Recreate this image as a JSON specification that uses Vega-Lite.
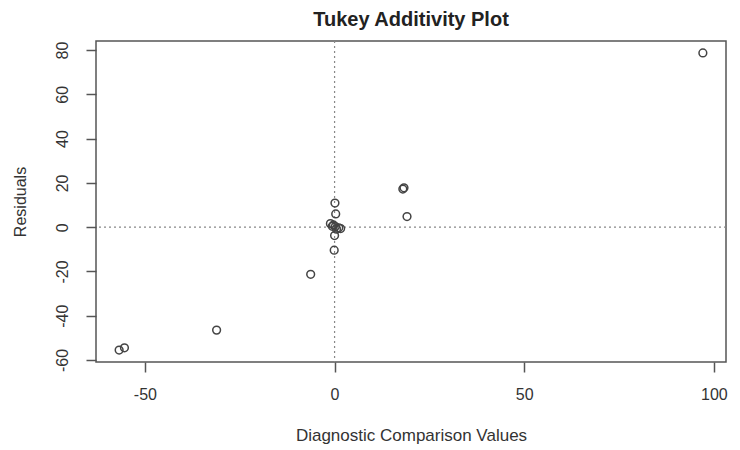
{
  "$schema": "https://vega.github.io/schema/vega-lite/v6.json",
  "width": 630,
  "height": 321,
  "autosize": "none",
  "padding": {"left": 96, "top": 41, "right": 14, "bottom": 88},
  "background": "white",
  "config": {
    "font": "Liberation Sans",
    "view": {"stroke": "#555555", "strokeWidth": 1.5}
  },
  "title": {
    "text": "Tukey Additivity Plot",
    "fontSize": 20,
    "fontWeight": "bold",
    "color": "#222222",
    "offset": 10,
    "anchor": "middle"
  },
  "data": {
    "values": [
      {"x": 97.1, "y": 78.7},
      {"x": -56.8, "y": -55.5},
      {"x": -55.4, "y": -54.5},
      {"x": -31.1, "y": -46.5},
      {"x": -6.3, "y": -21.3},
      {"x": 0.1, "y": 10.9},
      {"x": 0.3, "y": 6.0},
      {"x": -1.1, "y": 1.6},
      {"x": -0.3, "y": 1.0},
      {"x": -0.6, "y": 0.4},
      {"x": 0.2, "y": 0.3},
      {"x": 1.1, "y": -0.3},
      {"x": 1.6, "y": -0.6},
      {"x": 0.5, "y": -0.9},
      {"x": 0.0, "y": -3.8},
      {"x": -0.1, "y": -10.4},
      {"x": 18.0, "y": 17.2},
      {"x": 18.3, "y": 17.8},
      {"x": 19.1, "y": 4.8}
    ]
  },
  "layer": [
    {
      "data": {"values": [{"v": 0}]},
      "mark": {"type": "rule", "color": "#888888", "strokeDash": [2, 3], "strokeWidth": 1.2},
      "encoding": {"x": {"field": "v", "type": "quantitative", "scale": {"domain": [-62.9, 103.2], "nice": false, "zero": false}}}
    },
    {
      "data": {"values": [{"v": 0}]},
      "mark": {"type": "rule", "color": "#888888", "strokeDash": [2, 3], "strokeWidth": 1.2},
      "encoding": {"y": {"field": "v", "type": "quantitative", "scale": {"domain": [-60.9, 84.1], "nice": false, "zero": false}}}
    },
    {
      "mark": {"type": "point", "shape": "circle", "filled": false, "size": 60, "stroke": "#444444", "strokeWidth": 1.5, "opacity": 1},
      "encoding": {
        "x": {
          "field": "x",
          "type": "quantitative",
          "scale": {"domain": [-62.9, 103.2], "nice": false, "zero": false},
          "axis": {
            "values": [-50, 0, 50, 100],
            "labelExpr": "toString(datum.value)",
            "title": "Diagnostic Comparison Values",
            "grid": false,
            "domain": false,
            "tickColor": "#555555",
            "tickWidth": 1.5,
            "tickSize": 10,
            "labelFontSize": 16,
            "labelColor": "#333333",
            "labelPadding": 14,
            "titleFontSize": 17,
            "titleFontWeight": "normal",
            "titleColor": "#333333",
            "titlePadding": 25
          }
        },
        "y": {
          "field": "y",
          "type": "quantitative",
          "scale": {"domain": [-60.9, 84.1], "nice": false, "zero": false},
          "axis": {
            "values": [-60, -40, -20, 0, 20, 40, 60, 80],
            "labelExpr": "toString(datum.value)",
            "title": "Residuals",
            "grid": false,
            "domain": false,
            "tickColor": "#555555",
            "tickWidth": 1.5,
            "tickSize": 10,
            "labelAngle": -90,
            "labelAlign": "center",
            "labelBaseline": "bottom",
            "labelFontSize": 16,
            "labelColor": "#333333",
            "labelPadding": 16,
            "titleFontSize": 16,
            "titleFontWeight": "normal",
            "titleColor": "#333333",
            "titlePadding": 26
          }
        }
      }
    }
  ]
}
